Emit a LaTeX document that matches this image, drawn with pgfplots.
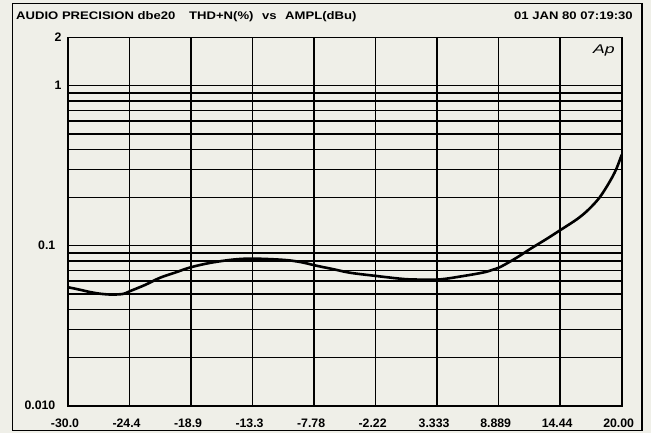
\documentclass[border=0pt]{standalone}
\usepackage{pgfplots}
\pgfplotsset{compat=1.18}
\usepackage{fontspec}
\setmainfont{Liberation Sans}
\definecolor{bg}{RGB}{239,239,232}
\newcommand{\titlef}{\fontsize{11}{13}\selectfont\bfseries}
\newcommand{\tickf}{\fontsize{12.3}{14}\selectfont\bfseries}
\begin{document}
\begin{tikzpicture}[x=1pt,y=1pt]
\fill[bg] (0,0) rectangle (651,433);
\draw[line width=1.3pt] (12.7,2.3) rectangle (642,429.7);
\node[anchor=base west,inner sep=0] at (16,413.7) {\titlef\scalebox{1.19}[1]{AUDIO PRECISION dbe20}};
\node[anchor=base west,inner sep=0] at (189,413.7) {\titlef\scalebox{1.19}[1]{THD+N(\%)}};
\node[anchor=base west,inner sep=0] at (262,413.7) {\titlef\scalebox{1.19}[1]{vs}};
\node[anchor=base west,inner sep=0] at (285,413.7) {\titlef\scalebox{1.19}[1]{AMPL(dBu)}};
\node[anchor=base east,inner sep=0] at (633,413.7) {\titlef\scalebox{1.19}[1]{01 JAN 80 07:19:30}};
\begin{axis}[
  at={(68pt,27.3pt)}, anchor=south west,
  scale only axis, width=553.7pt, height=368.2pt,
  xmin=-30, xmax=20,
  ymode=log, ymin=0.01, ymax=2,
  xtick={-30,-24.444,-18.889,-13.333,-7.778,-2.222,3.333,8.889,14.444,20},
  xticklabels={-30.0,-24.4,-18.9,-13.3,-7.78,-2.22,3.333,8.889,14.44,20.00},
  ytick={0.01,0.02,0.03,0.04,0.05,0.06,0.07,0.08,0.09,0.1,0.2,0.3,0.4,0.5,0.6,0.7,0.8,0.9,1,2},
  yticklabels={0.010,,,,,,,,,0.1,,,,,,,,,1\kern-6.5pt,2\kern-6.5pt},
  major tick length=0pt, minor tick num=0, yminorticks=false, xminorticks=false,
  xmajorgrids, ymajorgrids,
  grid style={black, line width=1.45pt},
  axis line style={black, line width=1.6pt},
  axis background/.style={fill=bg},
  xticklabel style={font=\tickf, anchor=center, inner sep=0pt, yshift=-17.3pt, xshift=-3pt},
  yticklabel style={font=\tickf, anchor=east, inner sep=0pt, xshift=-12.5pt},
]
\addplot[black, line width=2.6pt, smooth, tension=0.55] coordinates {
(-30.0,0.055) (-29.0,0.0532) (-28.0,0.0513) (-27.0,0.0500) (-26.0,0.0495)
(-25.0,0.0500) (-24.4,0.0520) (-23.0,0.0570) (-21.7,0.0630) (-20.3,0.0680)
(-19.0,0.0730) (-17.2,0.0780) (-15.0,0.0820) (-13.2,0.0830) (-10.5,0.0815)
(-9.0,0.0790) (-7.5,0.0748) (-6.0,0.0712) (-4.5,0.0677) (-2.1,0.0646)
(0.0,0.0622) (1.2,0.0615) (3.5,0.0615) (5.8,0.0648) (7.5,0.0680)
(8.3,0.0705) (9.1,0.0740) (10.5,0.0840) (11.8,0.0960) (13.2,0.1100) (14.6,0.1270)
(16.0,0.1470) (17.0,0.1680) (18.0,0.2000) (18.9,0.2500) (19.5,0.3000) (20.0,0.3700)
};
\end{axis}
\node[anchor=north east,inner sep=0] at (615,388) {\fontsize{12.6}{13}\selectfont\itshape\scalebox{1.4}[1]{Ap}};
\end{tikzpicture}
\end{document}
